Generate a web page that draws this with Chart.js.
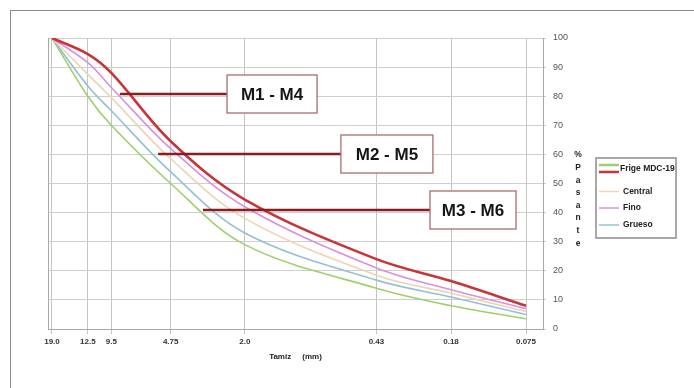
<!DOCTYPE html>
<html>
<head>
<meta charset="utf-8">
<script src="https://cdn.jsdelivr.net/npm/chart.js@4.4.1/dist/chart.umd.min.js"></script>
<style>
  body { margin: 0; background: #fff; }
  #wrap { width: 694px; height: 388px; }
</style>
</head>
<body>
<div id="wrap"><canvas id="curves" width="694" height="388"></canvas></div>
<script>
/*************************************************
 * DATA
 *************************************************/
// sieve openings (mm) and their printed labels
const sieves = [19.0, 12.5, 9.5, 4.75, 2.0, 0.43, 0.18, 0.075];
const sieveLabels = ["19.0", "12.5", "9.5", "4.75", "2.0", "0.43", "0.18", "0.075"];

// % passing for each curve
const frige   = [100, 94.5, 88.0, 64.5, 44.5, 24.0, 16.5, 8.0];
const fino    = [100, 91.5, 83.0, 62.0, 42.0, 21.0, 13.5, 7.0];
const central = [100, 87.5, 79.5, 58.5, 38.0, 18.5, 12.3, 6.0];
const grueso  = [100, 83.5, 75.0, 54.0, 33.0, 16.8, 11.0, 5.0];
const limite  = [100, 80.0, 70.0, 50.0, 29.0, 14.0, 8.0, 3.5];

const yTicks = [0, 10, 20, 30, 40, 50, 60, 70, 80, 90, 100];

// mixture callouts: level (%), pointer start (mm), box left edge (mm)
const notes = ["M1 - M4", "M2 - M5", "M3 - M6"];
const noteLevel = [80.8, 60.1, 41.0];
const noteFrom = [8.6, 5.5, 3.26];
const noteBox = [2.46, 0.651, 0.230];

const toPoints = arr => arr.map((v, i) => ({ x: sieves[i], y: v }));

/*************************************************
 * COLOURS
 *************************************************/
const frige_c = "#c9343a";
const fino_c = "#d991dd";
const central_c = "#f0d3b4";
const grueso_c = "#92c2d2";
const limite_c = "#9fd06c";

/*************************************************
 * DECORATION PLUGIN (frame, callouts, titles, legend)
 *************************************************/
const decor = {
  id: "decor",
  beforeDraw(chart) {
    const ctx = chart.ctx;
    ctx.save();
    ctx.fillStyle = "#fff";
    ctx.fillRect(0, 0, chart.width, chart.height);
    ctx.strokeStyle = "#8a8a8a";
    ctx.lineWidth = 1;
    ctx.strokeRect(10.5, 10.5, 720, 420);
    ctx.restore();
  },
  afterDraw(chart) {
    const { ctx, chartArea: a, scales: { x, y } } = chart;
    ctx.save();

    // left edge of plot area
    ctx.strokeStyle = "#a8a8a8";
    ctx.lineWidth = 1;
    ctx.beginPath();
    ctx.moveTo(a.left + 0.5, a.top);
    ctx.lineTo(a.left + 0.5, a.bottom);
    ctx.stroke();

    // callouts
    const boxW = [90, 92, 86];
    notes.forEach((txt, i) => {
      const py = Math.round(y.getPixelForValue(noteLevel[i]));
      const x0 = x.getPixelForValue(noteFrom[i]);
      const x1 = x.getPixelForValue(noteBox[i]);
      ctx.strokeStyle = "#8b1c20";
      ctx.lineWidth = 2.6;
      ctx.beginPath();
      ctx.moveTo(x0, py);
      ctx.lineTo(x1, py);
      ctx.stroke();
      ctx.fillStyle = "#fff";
      ctx.fillRect(x1, py - 19, boxW[i], 38);
      ctx.strokeStyle = "#a86e70";
      ctx.lineWidth = 1.3;
      ctx.strokeRect(x1, py - 19, boxW[i], 38);
      ctx.fillStyle = "#151515";
      ctx.font = "bold 17px 'Liberation Sans', Arial, sans-serif";
      ctx.textAlign = "center";
      ctx.textBaseline = "middle";
      ctx.fillText(txt, x1 + boxW[i] / 2, py + 1);
    });

    // x title
    ctx.fillStyle = "#222";
    ctx.font = "bold 8px 'Liberation Sans', Arial, sans-serif";
    ctx.textAlign = "center";
    ctx.textBaseline = "middle";
    ctx.fillText("Tamiz     (mm)", (a.left + a.right) / 2, 357);

    // y title, stacked letters
    ctx.font = "bold 8.5px 'Liberation Sans', Arial, sans-serif";
    const letters = ["%", "P", "a", "s", "a", "n", "t", "e"];
    letters.forEach((ch, i) => ctx.fillText(ch, 578, 155 + i * 12.6));

    // legend
    ctx.strokeStyle = "#8c8c8c";
    ctx.lineWidth = 1.5;
    ctx.strokeRect(596, 158, 80, 80);
    const rows = [
      { label: "Frige MDC-19", y: 169, tx: 620, lines: [[limite_c, 165], [frige_c, 172]] },
      { label: "Central", y: 191.5, tx: 623, lines: [[central_c, 191.5]] },
      { label: "Fino", y: 208, tx: 623, lines: [[fino_c, 208]] },
      { label: "Grueso", y: 225, tx: 623, lines: [[grueso_c, 225]] }
    ];
    ctx.font = "bold 8.5px 'Liberation Sans', Arial, sans-serif";
    rows.forEach(r => {
      r.lines.forEach(([c, ly]) => {
        ctx.strokeStyle = c;
        ctx.lineWidth = c === frige_c || c === limite_c ? 2.5 : 1.5;
        ctx.beginPath();
        ctx.moveTo(599, ly);
        ctx.lineTo(619, ly);
        ctx.stroke();
      });
      ctx.fillStyle = "#222";
      ctx.textAlign = "left";
      ctx.fillText(r.label, r.tx, r.y);
    });

    ctx.restore();
  }
};

/*************************************************
 * CHART
 *************************************************/
const lineSet = (data, color, width) => ({
  data: toPoints(data),
  borderColor: color,
  backgroundColor: color,
  borderWidth: width,
  pointRadius: 0,
  tension: 0.35,
  fill: false
});

new Chart(document.getElementById("curves").getContext("2d"), {
  type: "line",
  data: {
    datasets: [
      lineSet(frige, frige_c, 2.6),
      lineSet(fino, fino_c, 1.6),
      lineSet(central, central_c, 1.6),
      lineSet(grueso, grueso_c, 1.6),
      lineSet(limite, limite_c, 1.6)
    ]
  },
  options: {
    responsive: false,
    animation: false,
    devicePixelRatio: 1,
    layout: { padding: { left: 48, top: 38, right: 0, bottom: 0 } },
    plugins: { legend: { display: false }, tooltip: { enabled: false } },
    scales: {
      x: {
        type: "logarithmic",
        reverse: true,
        min: 0.0615,
        max: 19.9,
        afterBuildTicks: s => { s.ticks = sieves.map(v => ({ value: v })); },
        afterFit: s => { s.height = 59; },
        ticks: {
          autoSkip: false,
          maxRotation: 0,
          padding: 3,
          color: "#333",
          font: { family: "'Liberation Sans', Arial, sans-serif", size: 8, weight: "bold" },
          callback: (v, i) => sieveLabels[i]
        },
        grid: { color: "#c4c4c4", lineWidth: 1, tickLength: 5 },
        border: { color: "#a8a8a8" }
      },
      y: {
        position: "right",
        min: 0,
        max: 100,
        afterBuildTicks: s => { s.ticks = yTicks.map(v => ({ value: v })); },
        afterFit: s => { s.width = 151; },
        ticks: {
          padding: 7,
          color: "#555",
          font: { family: "'Liberation Sans', Arial, sans-serif", size: 9 }
        },
        grid: { color: "#cfcfcf", lineWidth: 1, tickLength: 3 },
        border: { color: "#a8a8a8" }
      }
    }
  },
  plugins: [decor]
});
</script>
</body>
</html>
